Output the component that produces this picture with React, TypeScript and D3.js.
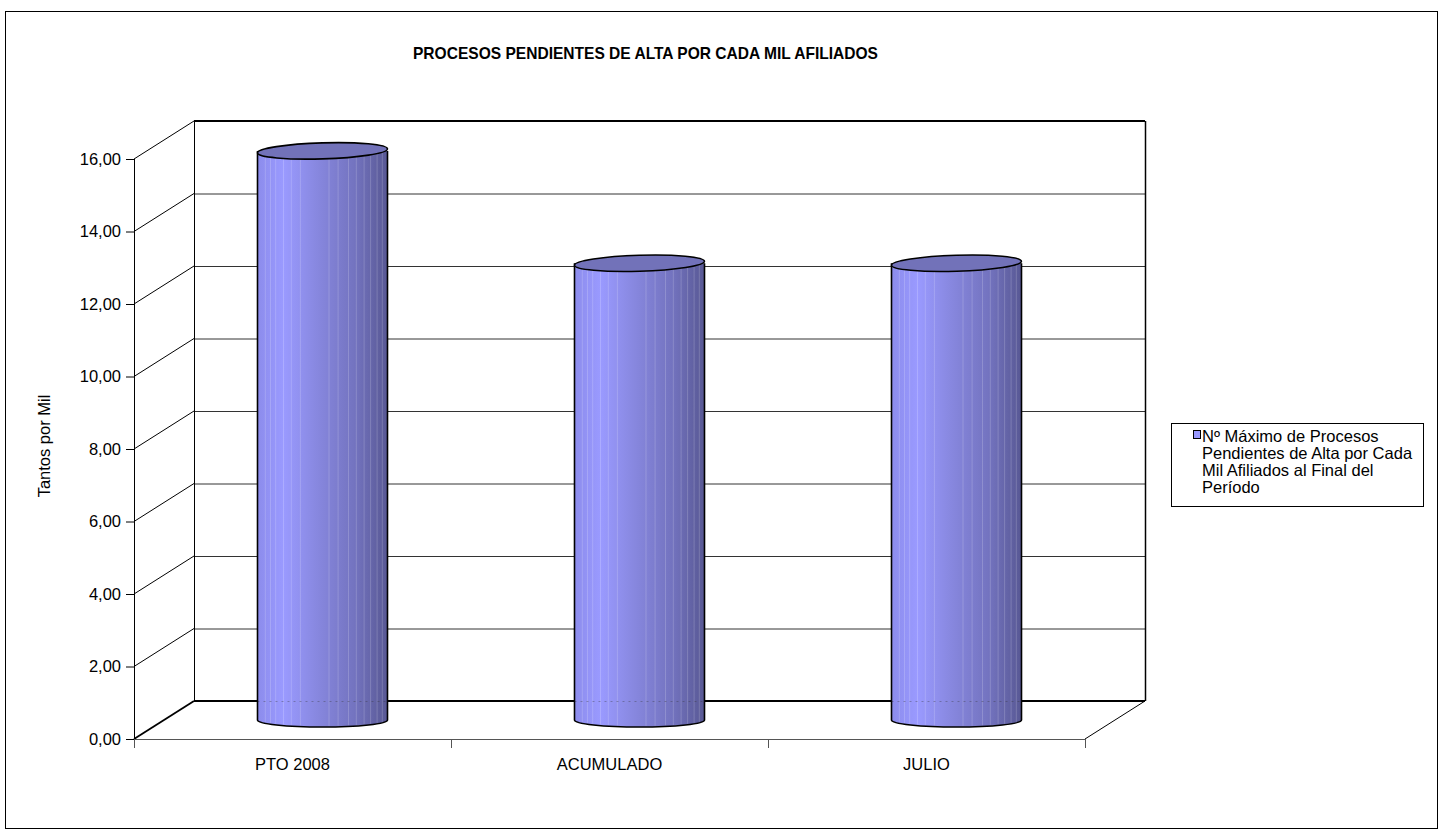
import React from "react";
import * as d3 from "d3";

const categories = ["PTO 2008", "ACUMULADO", "JULIO"];
const values = [15.7, 12.6, 12.6];
const yTicks = [0, 2, 4, 6, 8, 10, 12, 14, 16];
const seriesName = ["Nº Máximo de Procesos", "Pendientes de Alta por Cada", "Mil Afiliados al Final del", "Período"];
const title = "PROCESOS PENDIENTES DE ALTA POR CADA MIL AFILIADOS";
const yTitle = "Tantos por Mil";
const stripeFractions = [0.06, 0.1, 0.14, 0.2, 0.26, 0.33, 0.55, 0.62, 0.7, 0.76, 0.82, 0.87, 0.92, 0.96];

const W = 1445;
const H = 834;
const FONT = "'Liberation Sans', Arial, sans-serif";

export default function App() {
  const x0 = 134, x1 = 1085;
  const dx = 60, dy = -38;
  const y = d3.scaleLinear().domain([0, 16]).range([739, 159]);
  const xb = d3.scaleBand<string>().domain(categories).range([x0, x1]).paddingInner(0).paddingOuter(0);
  const bw = xb.bandwidth();
  const cylW = 130;
  const rx = cylW / 2;
  const ryTop = 8;
  const ryBot = 7;
  const tilt = (Math.atan2(-4, cylW) * 180) / Math.PI;

  return (
    <svg width={W} height={H} style={{ position: "absolute", left: 0, top: 0, background: "#fff" }} fontFamily={FONT}>
      <defs>
        <linearGradient id="cyl" x1="0" x2="1" y1="0" y2="0">
          <stop offset="0" stopColor="#8c8cec" />
          <stop offset="0.2" stopColor="#9a9aff" />
          <stop offset="0.45" stopColor="#8888e0" />
          <stop offset="0.75" stopColor="#7373bf" />
          <stop offset="1" stopColor="#585894" />
        </linearGradient>
      </defs>
      <rect x={5.5} y={11.5} width={1432} height={817} fill="#fff" stroke="#000" strokeWidth={1} />
      <text x={645.5} y={59} textAnchor="middle" fontSize={17} fontWeight="bold" textLength={465} lengthAdjust="spacingAndGlyphs">
        {title}
      </text>

      {yTicks.map((t, i) =>
        t === 0 || t === 16 ? null : (
          <line key={"bg" + i} x1={x0 + dx} x2={x1 + dx} y1={y(t) + dy + 0.5} y2={y(t) + dy + 0.5} stroke="#333" strokeWidth={1} />
        )
      )}
      {yTicks.map((t, i) =>
        t === 0 ? null : (
          <line key={"sg" + i} x1={x0} y1={y(t)} x2={x0 + dx} y2={y(t) + dy} stroke="#000" strokeWidth={1} />
        )
      )}
      <line x1={x0 + dx} x2={x1 + dx} y1={y(16) + dy} y2={y(16) + dy} stroke="#000" strokeWidth={2} />
      <line x1={x0 + dx + 0.5} x2={x0 + dx + 0.5} y1={y(16) + dy} y2={y(0) + dy} stroke="#000" strokeWidth={1} />
      <line x1={x1 + dx + 0.5} x2={x1 + dx + 0.5} y1={y(16) + dy} y2={y(0) + dy} stroke="#000" strokeWidth={1.5} />
      <line x1={x0 + dx} x2={x1 + dx} y1={y(0) + dy} y2={y(0) + dy} stroke="#000" strokeWidth={2.2} />
      <line x1={x0} y1={y(0)} x2={x0 + dx} y2={y(0) + dy} stroke="#000" strokeWidth={1.8} />
      <line x1={x1} y1={y(0)} x2={x1 + dx} y2={y(0) + dy} stroke="#000" strokeWidth={1} />
      <line x1={x0} x2={x1} y1={y(0) + 0.5} y2={y(0) + 0.5} stroke="#555" strokeWidth={1} />

      {categories.map((c, i) => {
        const cx = (xb(c) as number) + bw / 2 + dx / 2;
        const yb = y(0) + dy / 2;
        const yt = y(values[i]) + dy / 2;
        const left = cx - rx;
        const right = cx + rx;
        const bodyPath = `M${left},${yt} L${left},${yb} A${rx},${ryBot} 0 0 0 ${right},${yb} L${right},${yt} Z`;
        return (
          <g key={c}>
            <path d={bodyPath} fill="url(#cyl)" stroke="none" />
            {stripeFractions.map((f, k) => (
              <line key={k} x1={left + f * cylW} x2={left + f * cylW} y1={yt} y2={yb + ryBot * Math.sqrt(Math.max(0, 1 - Math.pow((f * cylW - rx) / rx, 2))) - 1} stroke="#ffffff" strokeOpacity={0.18} strokeWidth={1} />
            ))}
            <line x1={left} x2={right} y1={y(0) + dy + 0.5} y2={y(0) + dy + 0.5} stroke="#333" strokeWidth={1} strokeOpacity={0.35} strokeDasharray="2,4" />
            <path d={`M${left},${yt} L${left},${yb} A${rx},${ryBot} 0 0 0 ${right},${yb} L${right},${yt}`} fill="none" stroke="#000" strokeWidth={1.6} />
            <ellipse cx={cx} cy={yt} rx={rx} ry={ryTop} fill="#7272b9" stroke="#000" strokeWidth={1.6} transform={`rotate(${tilt},${cx},${yt})`} />
          </g>
        );
      })}

      <line x1={x0 + 0.5} x2={x0 + 0.5} y1={y(16)} y2={y(0)} stroke="#000" strokeWidth={1} />
      {yTicks.map((t, i) => (
        <g key={"yt" + i}>
          <line x1={x0 - 8} x2={x0} y1={y(t) + 0.5} y2={y(t) + 0.5} stroke="#000" strokeWidth={1} />
          <text x={x0 - 13} y={y(t)} dy="0.35em" textAnchor="end" fontSize={16.5}>
            {d3.format(".2f")(t).replace(".", ",")}
          </text>
        </g>
      ))}
      <text transform={`translate(50,446) rotate(-90)`} textAnchor="middle" fontSize={16.5}>
        {yTitle}
      </text>

      {[x0, ...categories.map((c) => (xb(c) as number) + bw)].map((xv, i) => (
        <line key={"xt" + i} x1={xv + 0.5} x2={xv + 0.5} y1={y(0)} y2={y(0) + 9} stroke="#555" strokeWidth={1} />
      ))}
      {categories.map((c) => (
        <text key={"xl" + c} x={(xb(c) as number) + bw / 2} y={764} dy="0.35em" textAnchor="middle" fontSize={16.5}>
          {c}
        </text>
      ))}

      <rect x={1171.5} y={423.5} width={252} height={83} fill="#fff" stroke="#000" strokeWidth={1} />
      <rect x={1193.5} y={430.5} width={7} height={8} fill="#9999ff" stroke="#000" strokeWidth={1} />
      {seriesName.map((line, i) => (
        <text key={"lg" + i} x={1202} y={436.5 + i * 17} dy="0.35em" fontSize={16.5}>
          {line}
        </text>
      ))}
    </svg>
  );
}
